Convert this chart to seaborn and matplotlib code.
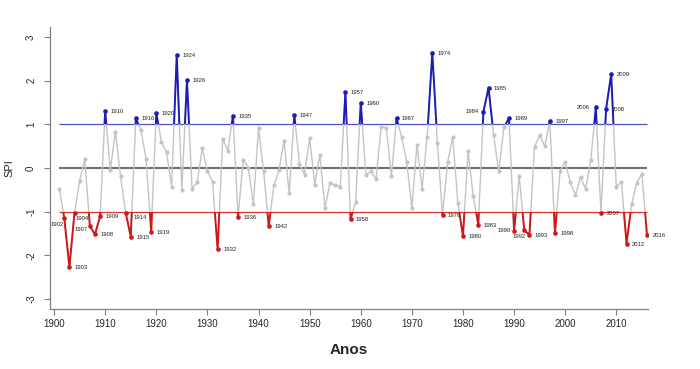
import pandas as pd
import seaborn as sns
import matplotlib.pyplot as plt
from matplotlib.patches import Rectangle

sns.set_style("ticks")
plt.rcParams['font.family'] = ['Liberation Sans', 'DejaVu Sans']

# SPI anual, 1901-2016
years = list(range(1901, 2017))
spi = [
    -0.47, -1.15, -2.27, -1.02, -0.29, 0.20, -1.33, -1.52, -1.11, 1.31,   # 1901-1910
    -0.05, 0.83, -0.18, -1.02, -1.57, 1.14, 0.86, 0.21, -1.46, 1.26,      # 1911-1920
    0.60, 0.36, -0.43, 2.59, -0.50, 2.01, -0.47, -0.33, 0.45, -0.07,      # 1921-1930
    -0.31, -1.86, 0.67, 0.40, 1.20, -1.12, 0.18, 0.01, -0.83, 0.91,       # 1931-1940
    -0.07, -1.33, -0.40, -0.05, 0.63, -0.58, 1.22, 0.10, -0.15, 0.69,     # 1941-1950
    -0.38, 0.30, -0.91, -0.34, -0.39, -0.43, 1.74, -1.17, -0.79, 1.49,    # 1951-1960
    -0.15, -0.08, -0.25, 0.95, 0.92, -0.18, 1.14, 0.71, 0.13, -0.91,      # 1961-1970
    0.53, -0.47, 0.72, 2.64, 0.57, -1.08, 0.13, 0.72, -0.80, -1.56,       # 1971-1980
    0.39, -0.63, -1.30, 1.29, 1.84, 0.75, -0.08, 0.93, 1.14, -1.44,       # 1981-1990
    -0.19, -1.43, -1.53, 0.48, 0.75, 0.50, 1.08, -1.50, -0.06, 0.13,      # 1991-2000
    -0.33, -0.62, -0.21, -0.48, 0.18, 1.39, -1.03, 1.35, 2.15, -0.43,     # 2001-2010
    -0.31, -1.73, -0.83, -0.34, -0.13, -1.53,                             # 2011-2016
]
threshold = 1.0
x_ticks = list(range(1900, 2011, 10))
y_ticks = [-3, -2, -1, 0, 1, 2, 3]

df = pd.DataFrame({'ano': years, 'spi': spi})
wet = df[df['spi'] > threshold]
dry = df[df['spi'] < -threshold]
normal = df[df['spi'].abs() <= threshold]

# label placement tweaks (pixel offsets, ha)
label_pos = {
    1902: (-1, -6, 'right'),
    1904: (1.5, -6, 'left'),
    1907: (-2.5, -3, 'right'),
    1914: (8, -4.5, 'left'),
    1984: (-5, 0, 'right'),
    1990: (-3.5, 0, 'right'),
    1992: (1, -6, 'right'),
    2006: (-6, 0, 'right'),
}

fig = plt.figure(figsize=(7, 3.69), dpi=100)
ax = fig.add_axes([0.0714, 0.1626, 0.8543, 0.7642])

blue = '#1c1cb8'
red = '#d01818'
grey = '#c4c4c4'

# reference lines
ax.hlines(threshold, years[0], years[-1], color='#5050c8', lw=0.9, zorder=1)
ax.hlines(-threshold, years[0], years[-1], color='#dd3333', lw=0.9, zorder=1)
ax.hlines(0, years[0], years[-1], color='#707070', lw=1.5, zorder=1)

# base grey series
sns.lineplot(data=df, x='ano', y='spi', color=grey, lw=1.0, ax=ax, zorder=2)
# coloured parts beyond the thresholds (clipped copies)
sns.lineplot(data=df, x='ano', y='spi', color=blue, lw=1.4, ax=ax, zorder=3)
ax.lines[-1].set_clip_path(Rectangle((1800, threshold), 400, 10, transform=ax.transData))
sns.lineplot(data=df, x='ano', y='spi', color=red, lw=1.4, ax=ax, zorder=3)
ax.lines[-1].set_clip_path(Rectangle((1800, -threshold - 10), 400, 10, transform=ax.transData))

sns.scatterplot(data=normal, x='ano', y='spi', color=grey, s=9, linewidth=0, ax=ax, zorder=4)
sns.scatterplot(data=wet, x='ano', y='spi', color=blue, s=11, linewidth=0, ax=ax, zorder=5)
sns.scatterplot(data=dry, x='ano', y='spi', color=red, s=11, linewidth=0, ax=ax, zorder=5)

px = 72 / fig.dpi
for _, row in pd.concat([wet, dry]).iterrows():
    yr = int(row['ano'])
    dx, dy, ha = label_pos.get(yr, (5.5, -0.5, 'left'))
    ax.annotate(str(yr), (row['ano'], row['spi']), xytext=(dx * px, dy * px),
                textcoords='offset points', ha=ha, va='center',
                fontsize=4.2, color='#222222', zorder=6)

ax.set_xlim(1899.2, 2016.2)
ax.set_ylim(-3.23, 3.23)
ax.set_xticks(x_ticks)
ax.set_yticks(y_ticks)
ax.set_yticklabels([str(v) for v in y_ticks], rotation=90, va='center')
ax.tick_params(axis='both', length=4, width=0.8, color='#808080', labelsize=7, pad=3)
ax.tick_params(axis='y', pad=6)
sns.despine(ax=ax)
for side in ['left', 'bottom']:
    ax.spines[side].set_color('#808080')
    ax.spines[side].set_linewidth(0.9)

ax.set_xlabel('Anos', fontsize=11, fontweight='bold', labelpad=10)
ax.set_ylabel('SPI', fontsize=8, labelpad=8)

fig.savefig('out.png', dpi=100)
